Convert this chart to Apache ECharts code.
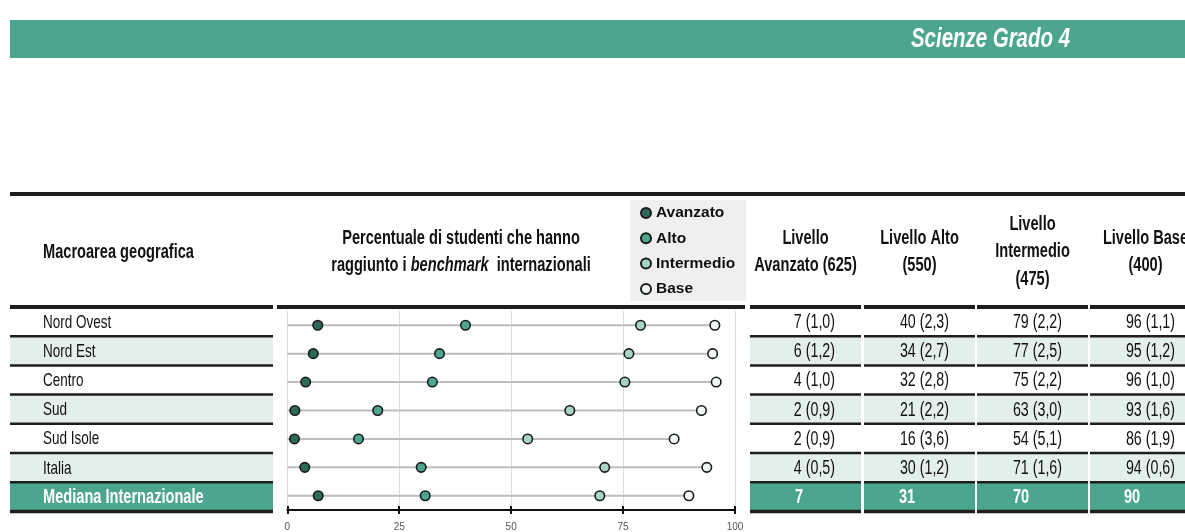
<!DOCTYPE html>
<html><head><meta charset="utf-8">
<script src="https://cdn.jsdelivr.net/npm/echarts@6/dist/echarts.min.js"></script>
<style>html,body{margin:0;padding:0;background:#fff}#c{width:1185px;height:532px}</style>
</head><body><div id="c"></div>
<script>
// ---- data ----
const title = 'Scienze Grado 4';
const headerLeft = 'Macroarea geografica';
const headerChart1 = 'Percentuale di studenti che hanno';
const headerChart2 = ['raggiunto i ', 'benchmark', '  internazionali'];
const regions = ['Nord Ovest','Nord Est','Centro','Sud','Sud Isole','Italia','Mediana Internazionale'];
const seriesNames = ['Avanzato','Alto','Intermedio','Base'];
const avanzato   = [6.8, 5.8, 4.1, 1.7, 1.6, 3.9, 6.9];
const alto       = [39.8, 34.0, 32.4, 20.2, 15.9, 29.9, 30.8];
const intermedio = [78.9, 76.3, 75.4, 63.1, 53.7, 70.9, 69.8];
const base       = [95.5, 95.0, 95.8, 92.5, 86.4, 93.7, 89.7];
const colAvanzato   = ['7 (1,0)','6 (1,2)','4 (1,0)','2 (0,9)','2 (0,9)','4 (0,5)','7'];
const colAlto       = ['40 (2,3)','34 (2,7)','32 (2,8)','21 (2,2)','16 (3,6)','30 (1,2)','31'];
const colIntermedio = ['79 (2,2)','77 (2,5)','75 (2,2)','63 (3,0)','54 (5,1)','71 (1,6)','70'];
const colBase       = ['96 (1,1)','95 (1,2)','96 (1,0)','93 (1,6)','86 (1,9)','94 (0,6)','90'];
const colHeaders = [['Livello','Avanzato (625)'],['Livello Alto','(550)'],['Livello','Intermedio','(475)'],['Livello Base','(400)']];
const xTicks = [0, 25, 50, 75, 100];

// ---- style ----
const FONT = '"Liberation Sans",Arial,sans-serif';
const SX = 0.73;   // horizontal condensing of the table texts
const TEAL = '#4CA58F', LIGHT = '#E3EFEB', DARK = '#1E1E1E';
const dotColors = ['#2C6B59', '#4BA590', '#A6D4C7', '#F1F8F6'];

const colX = [750, 864, 977, 1090], colW = 111;
const numRight = [835, 949, 1062, 1175];
const medLeft = [795, 899, 1013, 1124];
const rowTop = 307, rowH = 29.2;
const tableCols = [colAvanzato, colAlto, colIntermedio, colBase];

function txt(t, x, y, o) {
  o = o || {};
  return {type:'text', x:x, y:y, scaleX: SX, z: 10,
    style:{text:t, x:0, y:0, align:o.align || 'left', verticalAlign:'middle',
      fill:o.fill || '#111', fontFamily:FONT, fontSize:o.size || 19,
      fontWeight:o.weight || 'normal', fontStyle:o.style || 'normal', rich:o.rich}};
}

const g = [];
// title band
g.push({type:'rect', shape:{x:10, y:20, width:1175, height:38}, style:{fill:TEAL}});
g.push(txt(title, 1070, 39, {align:'right', fill:'#fff', size:28, weight:'bold', style:'italic'}));
// top thick line
g.push({type:'rect', shape:{x:10, y:192, width:1175, height:4}, style:{fill:DARK}});
// headers
g.push(txt(headerLeft, 43, 252, {size:20, weight:'bold'}));
g.push(txt(headerChart1, 461, 238, {align:'center', size:20, weight:'bold'}));
g.push(txt('{a|'+headerChart2[0]+'}{b|'+headerChart2[1]+'}{a|'+headerChart2[2]+'}', 461, 265, {align:'center',
  rich:{a:{fill:'#111', fontFamily:FONT, fontSize:20, fontWeight:'bold'},
        b:{fill:'#111', fontFamily:FONT, fontSize:20, fontWeight:'bold', fontStyle:'italic'}}}));
colHeaders.forEach((lines, c) => {
  const cx = colX[c] + colW / 2;
  const y0 = lines.length === 3 ? 224 : 238;
  lines.forEach((t, k) => {
    g.push(txt(t, cx, y0 + k * 27.5, {align:'center', size:20, weight:'bold'}));
  });
});
// row fills
regions.forEach((r, i) => {
  const y = rowTop + i * rowH;
  const last = i === regions.length - 1;
  const fill = last ? TEAL : (i % 2 === 1 ? LIGHT : null);
  if (fill) {
    g.push({type:'rect', shape:{x:10, y:y, width:263, height:rowH}, style:{fill}});
    colX.forEach(x => g.push({type:'rect', shape:{x:x, y:y, width:colW, height:rowH}, style:{fill}}));
  }
});
// row lines
for (let i = 0; i <= regions.length; i++) {
  const y = rowTop + i * rowH;
  const h = (i === 0) ? 4 : (i === regions.length ? 3.5 : 2.5);
  const yy = y - h / 2;
  g.push({type:'rect', shape:{x:10, y:yy, width:263, height:h}, style:{fill:DARK}});
  colX.forEach(x => g.push({type:'rect', shape:{x:x, y:yy, width:colW, height:h}, style:{fill:DARK}}));
  if (i === 0) g.push({type:'rect', shape:{x:277, y:yy, width:468, height:h}, style:{fill:DARK}});
}
// row texts
regions.forEach((r, i) => {
  const cy = rowTop + i * rowH + rowH / 2 + 1;
  const last = i === regions.length - 1;
  g.push(txt(r, 43, cy, {fill: last ? '#fff' : '#111', size: last ? 20 : 18.5, weight: last ? 'bold' : 'normal'}));
  tableCols.forEach((col, c) => {
    g.push(txt(col[i], last ? medLeft[c] : numRight[c], cy, {align: last ? 'left' : 'right',
      fill: last ? '#fff' : '#111', size: last ? 20 : 19.5, weight: last ? 'bold' : 'normal'}));
  });
});

const values = [avanzato, alto, intermedio, base];
const series = [{
  type:'bar', name:'linea', data: base, barWidth:2, silent:true, z:1,
  itemStyle:{color:'#BDBDBD'}
}];
seriesNames.forEach((n, k) => {
  series.push({type:'scatter', name:n, data: values[k], symbol:'circle', symbolSize:9.5, z:3,
    itemStyle:{color:dotColors[k], borderColor:'#1A1A1A', borderWidth:1.6, opacity:1}});
});

const chart = echarts.init(document.getElementById('c'), null, {renderer:'canvas'});
chart.setOption({
  animation:false,
  backgroundColor:'#fff',
  textStyle:{fontFamily:FONT},
  grid:{left:287.3, width:447.7, top:311, height:199.2, containLabel:false},
  legend:{
    data: seriesNames.map(n => ({name:n, icon:'circle'})),
    orient:'vertical', left:630, top:200, itemWidth:10, itemHeight:10, itemGap:7.3,
    padding:[4, 11, 3, 10], backgroundColor:'#EFEFEF', selectedMode:false,
    textStyle:{fontFamily:FONT, fontSize:15.5, fontWeight:'bold', color:'#111', lineHeight:18}
  },
  xAxis:[{
    type:'value', min:xTicks[0], max:xTicks[xTicks.length-1], interval:xTicks[1]-xTicks[0], position:'bottom',
    axisLine:{show:true, lineStyle:{color:'#111', width:2}},
    axisTick:{show:true, length:4, lineStyle:{color:'#111', width:2}},
    axisLabel:{color:'#555', fontSize:10, margin:12, fontFamily:FONT},
    splitLine:{show:true, lineStyle:{color:'#DCDCDC', width:1}}
  },{
    type:'value', min:xTicks[0], max:xTicks[xTicks.length-1], interval:xTicks[1]-xTicks[0], position:'bottom', offset:0,
    axisLine:{show:false}, axisTick:{show:true, inside:true, length:4, lineStyle:{color:'#111', width:2}},
    axisLabel:{show:false}, splitLine:{show:false}
  }],
  yAxis:{type:'category', data:regions, inverse:true, show:false},
  series: series,
  graphic: g
});
</script></body></html>
